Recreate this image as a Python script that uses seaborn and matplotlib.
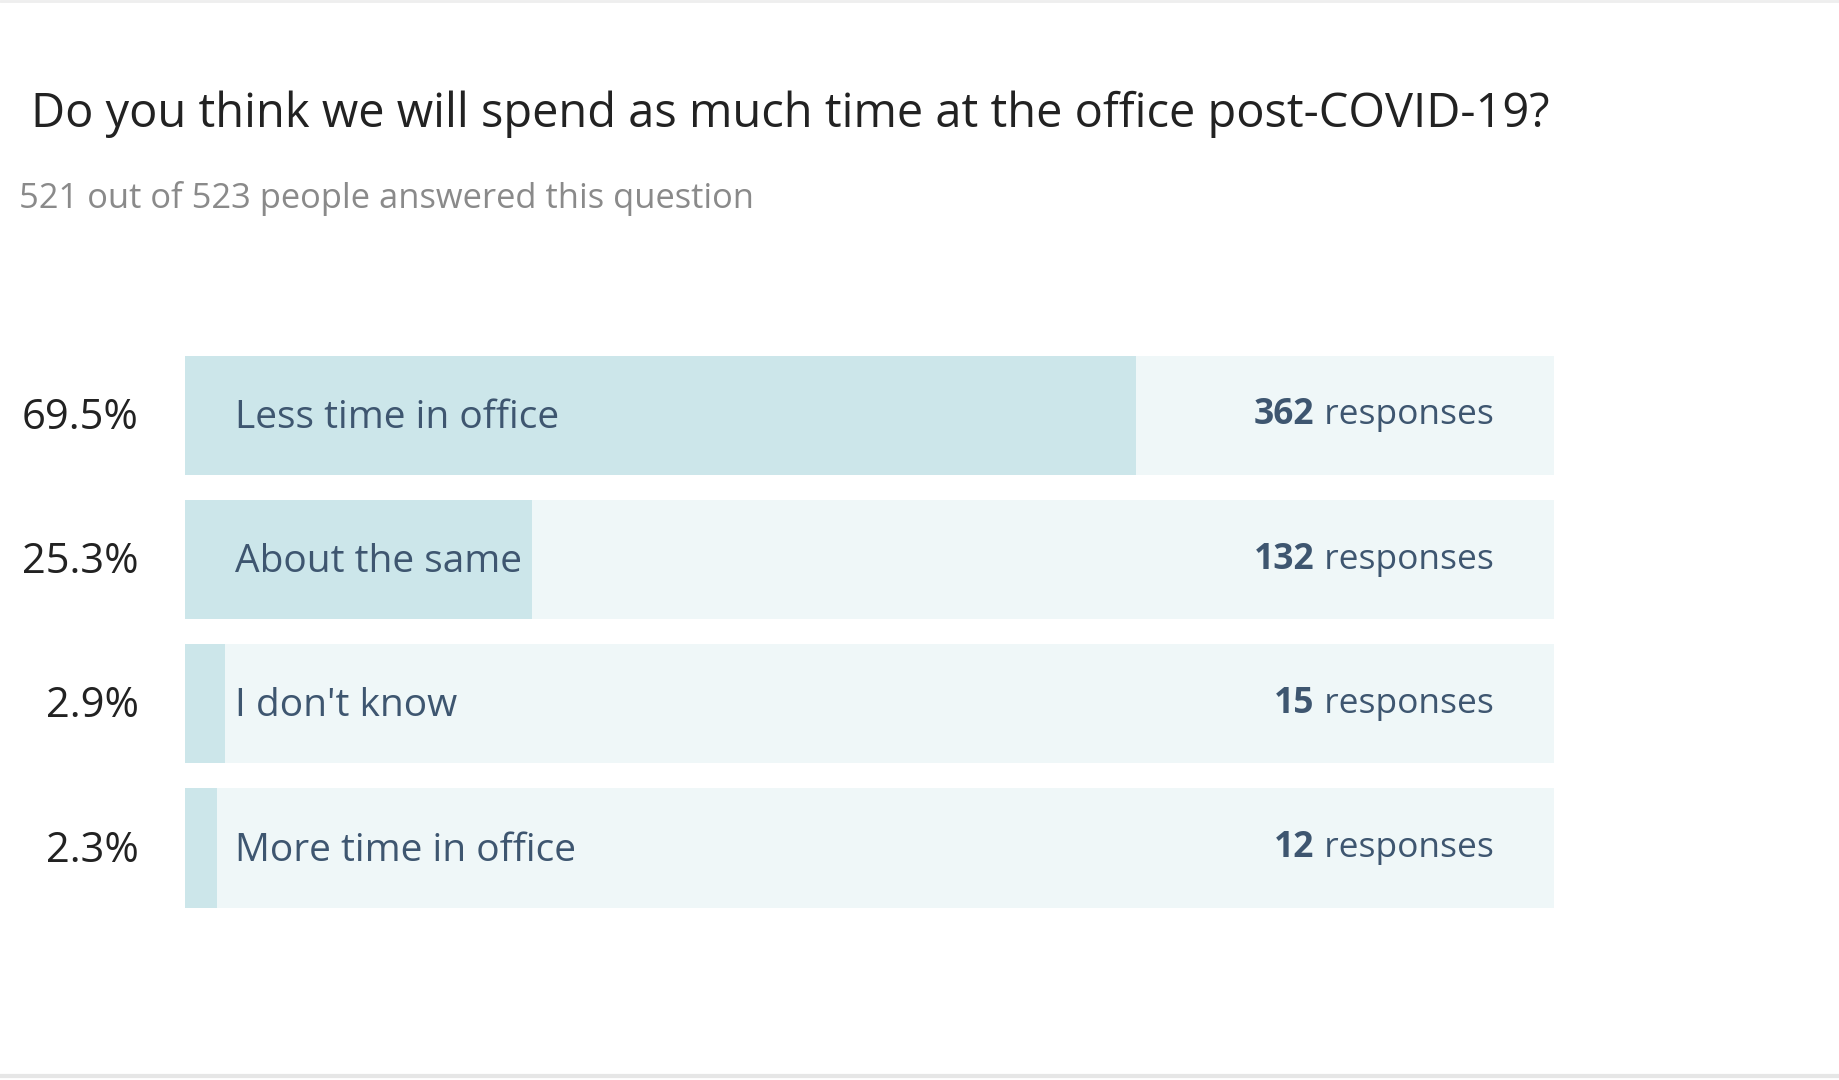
import matplotlib
matplotlib.use("Agg")
import matplotlib.pyplot as plt
import seaborn as sns
import pandas as pd
from matplotlib.lines import Line2D

categories = ["Less time in office", "About the same", "I don't know", "More time in office"]
percents = [69.5, 25.3, 2.9, 2.3]
pct_labels = ["69.5%", "25.3%", "2.9%", "2.3%"]
counts = [362, 132, 15, 12]
title = "Do you think we will spend as much time at the office post-COVID-19?"
subtitle = "521 out of 523 people answered this question"

sns.set_theme(style="white")
plt.rcParams['font.family'] = ['Open Sans', 'DejaVu Sans']

df = pd.DataFrame({"cat": categories, "pct": percents, "full": [100] * len(categories)})

W, H = 1568, 920
fig = plt.figure(figsize=(18.4, 10.8), dpi=100)
ax = fig.add_axes([158 / W, 1 - 783.5 / H, (1324 - 158) / W, 491 / H])
sns.barplot(data=df, y="cat", x="full", color="#eff7f8", width=0.83, ax=ax, saturation=1, linewidth=0)
sns.barplot(data=df, y="cat", x="pct", color="#cce6ea", width=0.83, ax=ax, saturation=1, linewidth=0)
ax.set_xlim(0, 100)
ax.set_ylim(3.5, -0.5)
ax.axis("off")

txtc = "#3e5670"
fig.canvas.draw()
r = fig.canvas.get_renderer()
for i, (c, p, n) in enumerate(zip(categories, pct_labels, counts)):
    ax.text(3.6, i + 0.02, c, va="center", ha="left", fontsize=28, color=txtc)
    ax.text(-3.4, i + 0.02, p, va="center", ha="right", fontsize=30, color="#222222")
    t = ax.text(95.6, i, " responses", va="center", ha="right", fontsize=25.5, color=txtc)
    bb = t.get_window_extent(renderer=r)
    x0 = ax.transData.inverted().transform((bb.x0, 0))[0]
    ax.text(x0, i, str(n), va="center", ha="right", fontsize=25.5, color=txtc, fontweight="bold")

fig.text(26 / W, 1 - 97 / H, title, fontsize=33.8, color="#222222", va="center", ha="left")
fig.text(16 / W, 1 - 169 / H, subtitle, fontsize=24.8, color="#8a8a8a", va="center", ha="left")
fig.add_artist(Line2D([0, 1], [0.999, 0.999], color="#eeeeee", lw=2, transform=fig.transFigure))
fig.add_artist(Line2D([0, 1], [1 - 917 / H, 1 - 917 / H], color="#e6e6e6", lw=3, transform=fig.transFigure))

fig.savefig("out.png", dpi=100, facecolor="white")
